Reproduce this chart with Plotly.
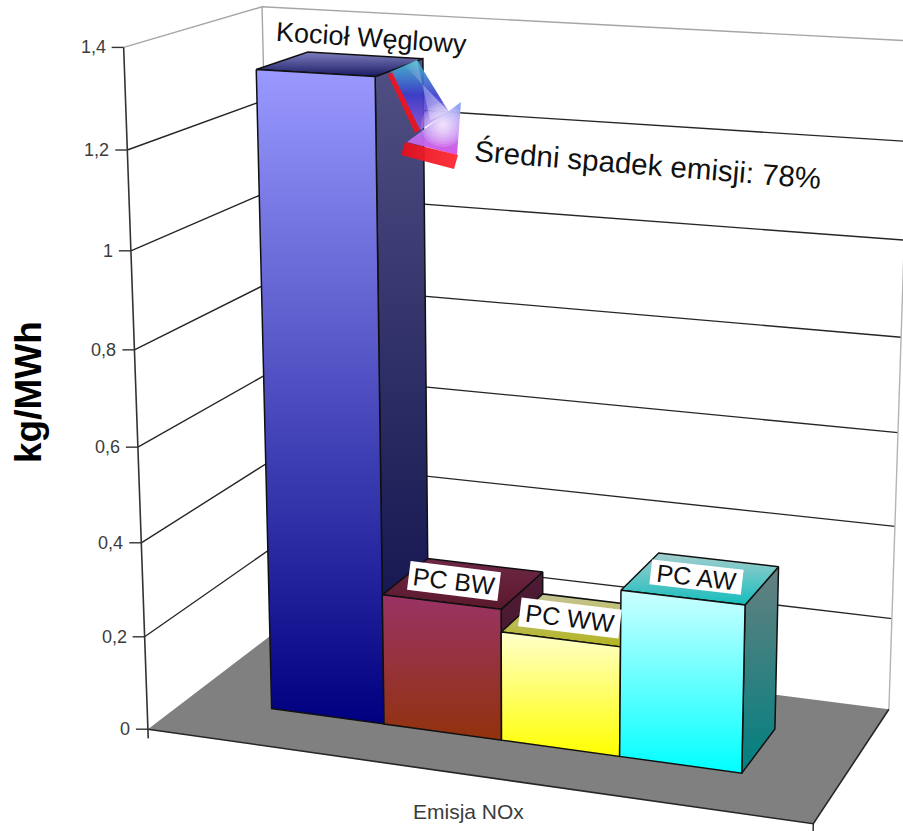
import numpy as np
import plotly.graph_objects as go

# Emission figures shown on the chart
categories = ["Kocioł Węglowy", "PC BW", "PC WW", "PC AW"]
values = [1.34, 0.28, 0.232, 0.35]
tick_values = [0, 0.2, 0.4, 0.6, 0.8, 1.0, 1.2, 1.4]
tick_labels = ["0", "0,2", "0,4", "0,6", "0,8", "1", "1,2", "1,4"]

# Box-relative placement of the bars along width and depth
bar_edges = [0.135, 0.316, 0.500, 0.680, 0.861]
bar_depth = (0.305, 0.70)

# Face colours per bar: (upper, lower) of each vertical gradient
front_colors = [("rgb(153,153,255)", "rgb(0,0,128)"), ("rgb(153,51,102)", "rgb(146,50,12)"),
                ("rgb(255,255,204)", "rgb(255,255,0)"), ("rgb(204,255,255)", "rgb(0,255,255)")]
side_colors = [("rgb(80,80,132)", "rgb(10,10,70)"), ("rgb(78,26,52)", "rgb(70,24,44)"),
               ("rgb(128,128,100)", "rgb(128,128,0)"), ("rgb(102,128,128)", "rgb(0,128,128)")]
top_colors = [("rgb(126,126,190)", "rgb(26,26,100)"), ("rgb(110,40,70)", "rgb(90,24,44)"),
              ("rgb(196,196,150)", "rgb(180,180,30)"), ("rgb(165,205,205)", "rgb(20,190,190)")]

# Perspective camera of the 3D box (value axis in kg/MWh, width and depth 0..1)
camera = np.array([
    [603.878, 155.419, -22.566, 147.922],
    [32.254, -37.524, -488.992, 729.196],
    [-0.07563, 0.09624, -0.04232, 1.0],
])


def proj(x, y, z):
    w = camera @ np.array([x, y, z, 1.0])
    return w[0] / w[2], w[1] / w[2]


def path(corners):
    pts = [proj(*c) for c in corners]
    return [p[0] for p in pts], [p[1] for p in pts]


fig = go.Figure()


def line(corners, color, width=1.4):
    xs, ys = path(corners)
    fig.add_trace(go.Scatter(x=xs, y=ys, mode="lines", line=dict(color=color, width=width),
                             hoverinfo="skip", showlegend=False))


def poly(xs, ys, grad=None, kind="vertical", fill=None, edge=None, width=1.5):
    spec = dict(x=list(xs) + [xs[0]], y=list(ys) + [ys[0]], fill="toself", hoverinfo="skip", showlegend=False)
    if edge:
        spec.update(mode="lines", line=dict(color=edge, width=width))
    else:
        spec.update(mode="none")
    if grad:
        # The y axis runs downwards, so colours listed from the top are laid out in reverse
        stops = list(grad) if kind == "horizontal" else list(grad)[::-1]
        n = len(stops) - 1
        spec["fillgradient"] = dict(type=kind, colorscale=[[i / n, c] for i, c in enumerate(stops)])
    else:
        spec["fillcolor"] = fill
    fig.add_trace(go.Scatter(**spec))


# Floor of the box
xs, ys = path([(0, 0, 0), (1, 0, 0), (1, 1, 0), (0, 1, 0)])
poly(xs, ys, fill="#808080")

# Gridlines on the side and back walls
for z in tick_values[1:-1]:
    line([(0, 0, z), (0, 1, z), (1, 1, z)], "#262626")
line([(0, 0, 1.4), (0, 1, 1.4), (1, 1, 1.4)], "#a6a6a6")
line([(0, 1, 0), (0, 1, 1.4)], "#a6a6a6")
line([(1, 1, 0), (1, 1, 1.4)], "#b4b4b4")

# Front floor edges and value axis
line([(0, 0, 0), (1, 0, 0), (1, 1, 0)], "#262626", 1.6)
line([(1, 0, 0), (1, 0, -0.03)], "#262626")
line([(0, 0, 1.4), (0, 0, -0.02)], "#333333", 1.6)
annotations = []
for z, label in zip(tick_values, tick_labels):
    px, py = proj(0, 0, z)
    fig.add_trace(go.Scatter(x=[px - 12, px], y=[py, py], mode="lines", line=dict(color="#333333", width=1.4),
                             hoverinfo="skip", showlegend=False))
    annotations.append(dict(x=px - 16, y=py, text=label, xanchor="right", yanchor="middle", showarrow=False,
                            font=dict(size=18, color="#3c3c3c")))

# Bars, left to right so that each one hides the side of its neighbour
y0, y1 = bar_depth
for i, v in enumerate(values):
    a, b = bar_edges[i], bar_edges[i + 1]
    xs, ys = path([(b, y0, v), (b, y1, v), (b, y1, 0), (b, y0, 0)])
    poly(xs, ys, grad=side_colors[i], edge="#101010")
    xs, ys = path([(a, y0, v), (a, y1, v), (b, y1, v), (b, y0, v)])
    poly(xs, ys, grad=top_colors[i], edge="#101010")
    xs, ys = path([(a, y0, v), (b, y0, v), (b, y0, 0), (a, y0, 0)])
    poly(xs, ys, grad=front_colors[i], edge="#101010")

# Decorative arrow pointing from the coal boiler bar towards the caption
poly([390, 417, 449, 420], [72, 60, 112, 130],
     grad=["rgba(70,190,205,0.95)", "rgba(60,60,205,0.92)", "rgba(150,90,230,0.8)"])
poly([417, 404, 449, 430], [60, 65, 112, 120],
     grad=["rgba(255,255,255,0)", "rgba(205,210,255,0.7)"], kind="horizontal")
poly([461, 457, 407], [102, 155, 142], grad=["rgba(130,170,245,0.95)", "rgba(215,80,230,0.97)"])
# Soft highlight in the arrow head, built from stacked translucent discs
angles = np.linspace(0, 2 * np.pi, 25)[:-1]
for r in [22, 19, 16, 13, 10, 8, 6, 4, 2.5]:
    poly(443 + r * np.cos(angles), 125 + r * np.sin(angles), fill="rgba(255,245,255,0.17)")
poly([388, 392, 420, 415], [75, 72, 130, 133], fill="rgba(240,20,30,0.92)")
poly([405, 458, 454, 401], [142, 155, 169, 155], grad=["rgba(225,15,30,0.95)", "rgba(255,40,50,0.95)"], kind="horizontal")

# Bar name plates, placed on the bar tops
plates = [(454, 581, 7.0, 90, 28), (570, 618, 7.0, 100, 28), (696, 577, 6.5, 91, 24)]
for name, (cx, cy, ang, w, h) in zip(categories[1:], plates):
    annotations.append(dict(x=cx, y=cy, text=name, textangle=ang, showarrow=False, bgcolor="white",
                            width=w, height=h, borderpad=0, font=dict(size=25, color="#111111")))
annotations += [
    dict(x=371, y=38, text=categories[0], textangle=3.8, showarrow=False, font=dict(size=27, color="#111111")),
    dict(x=648, y=164, text="Średni spadek emisji: 78%", textangle=4.6, showarrow=False,
         font=dict(size=29.5, color="#111111")),
    dict(x=28, y=392, text="<b>kg/MWh</b>", textangle=-90, showarrow=False, font=dict(size=37, color="black")),
    dict(x=468, y=811, text="Emisja NOx", showarrow=False, font=dict(size=21, color="#3c3c3c")),
]

hidden = dict(visible=False, showgrid=False, zeroline=False)
fig.update_layout(
    width=903, height=831, margin=dict(l=0, r=0, t=0, b=0),
    paper_bgcolor="white", plot_bgcolor="white",
    font=dict(family="Liberation Sans, Arial, sans-serif"),
    xaxis=dict(range=[0, 903], **hidden),
    yaxis=dict(range=[831, 0], **hidden),
    annotations=annotations,
)
fig.write_html("out.html", config=dict(displayModeBar=False))
